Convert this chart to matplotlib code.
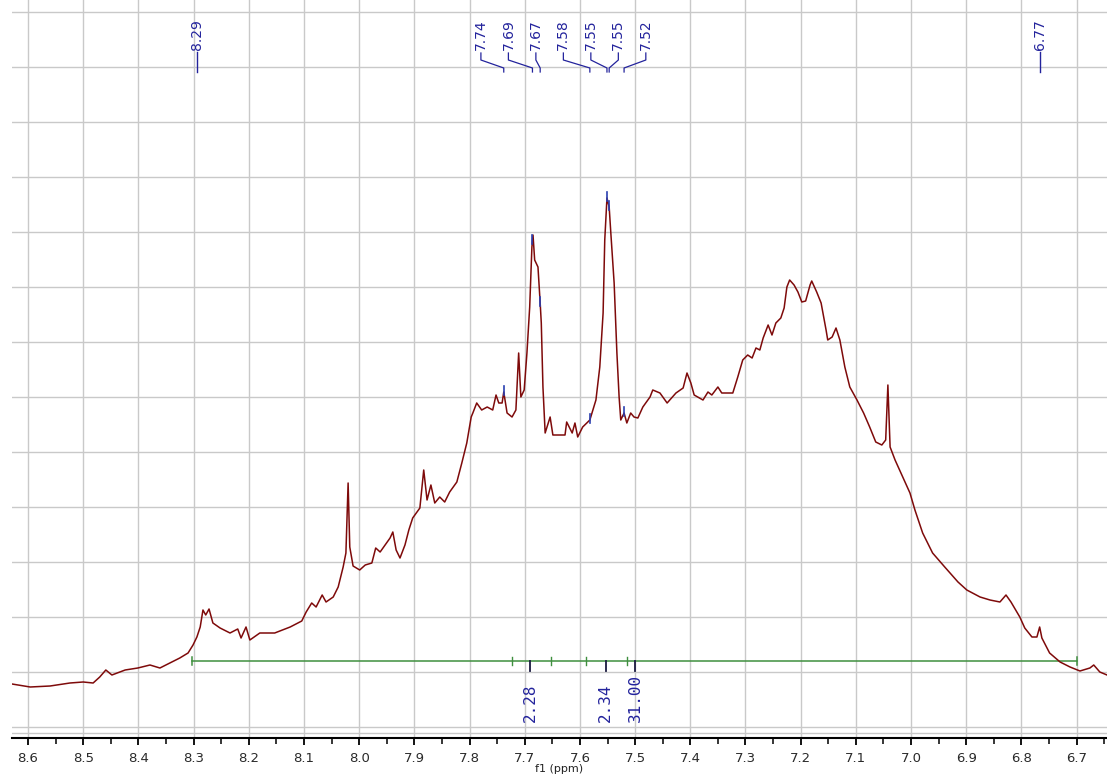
import numpy as np
from matplotlib import pyplot as plt

# 1H NMR trace: chemical shift (ppm) and relative intensity
ppm = [8.629, 8.596, 8.560, 8.524, 8.500, 8.482, 8.470, 8.459, 8.448, 8.424,
       8.401, 8.379, 8.361, 8.343, 8.325, 8.310, 8.301, 8.294, 8.288, 8.283,
       8.278, 8.272, 8.265, 8.252, 8.234, 8.220, 8.214, 8.205, 8.198, 8.180,
       8.153, 8.125, 8.104, 8.096, 8.086, 8.078, 8.067, 8.060, 8.047, 8.038,
       8.029, 8.024, 8.020, 8.017, 8.011, 7.999, 7.989, 7.977, 7.970, 7.962,
       7.953, 7.944, 7.939, 7.933, 7.926, 7.917, 7.910, 7.903, 7.890, 7.883,
       7.877, 7.870, 7.863, 7.854, 7.845, 7.836, 7.823, 7.814, 7.805, 7.797,
       7.794, 7.787, 7.778, 7.768, 7.758, 7.752, 7.747, 7.741, 7.738, 7.732,
       7.723, 7.716, 7.711, 7.707, 7.701, 7.696, 7.691, 7.687, 7.685, 7.682,
       7.676, 7.672, 7.670, 7.667, 7.663, 7.654, 7.649, 7.627, 7.624, 7.614,
       7.609, 7.604, 7.595, 7.582, 7.571, 7.564, 7.558, 7.555, 7.551, 7.547,
       7.544, 7.538, 7.533, 7.529, 7.526, 7.520, 7.515, 7.508, 7.502, 7.495,
       7.486, 7.473, 7.468, 7.455, 7.442, 7.426, 7.413, 7.406, 7.399, 7.393,
       7.377, 7.368, 7.361, 7.350, 7.343, 7.332, 7.323, 7.314, 7.305, 7.296,
       7.288, 7.281, 7.274, 7.268, 7.259, 7.252, 7.245, 7.236, 7.230, 7.225,
       7.220, 7.212, 7.205, 7.198, 7.191, 7.183, 7.180, 7.171, 7.163, 7.154,
       7.151, 7.143, 7.136, 7.129, 7.120, 7.111, 7.098, 7.086, 7.075, 7.064,
       7.053, 7.046, 7.042, 7.038, 7.029, 7.015, 7.002, 6.993, 6.979, 6.961,
       6.939, 6.915, 6.899, 6.875, 6.857, 6.839, 6.828, 6.819, 6.803, 6.794,
       6.781, 6.772, 6.767, 6.763, 6.749, 6.730, 6.712, 6.694, 6.676, 6.669,
       6.658, 6.645]
intensity = [0.4, -0.2, 0.0, 0.6, 0.8, 0.6, 1.8, 3.2, 2.2, 3.2,
             3.6, 4.2, 3.6, 4.6, 5.6, 6.6, 8.2, 9.8, 11.8, 15.2,
             14.2, 15.4, 12.6, 11.6, 10.6, 11.4, 9.6, 11.8, 9.2, 10.6,
             10.6, 11.8, 13.0, 14.8, 16.6, 15.8, 18.2, 16.8, 17.8, 19.8,
             23.8, 26.6, 40.6, 27.8, 24.0, 23.2, 24.2, 24.6, 27.6, 26.8,
             28.2, 29.6, 30.8, 27.2, 25.6, 28.2, 31.2, 33.6, 35.6, 43.2,
             37.2, 40.2, 36.6, 37.8, 36.8, 38.8, 40.8, 44.6, 48.6, 53.8,
             54.6, 56.6, 55.2, 55.8, 55.2, 58.2, 56.6, 56.6, 58.8, 54.6,
             53.8, 55.2, 66.6, 57.8, 59.2, 66.6, 75.8, 87.8, 90.2, 85.2,
             83.8, 76.6, 72.6, 59.8, 50.6, 53.8, 50.2, 50.2, 52.8, 50.6,
             52.6, 49.8, 51.8, 53.2, 57.2, 63.8, 74.6, 89.2, 97.6, 95.8,
             90.6, 80.6, 66.6, 57.8, 53.2, 54.6, 52.6, 54.6, 53.8, 53.6,
             55.8, 57.8, 59.2, 58.6, 56.6, 58.6, 59.6, 62.6, 60.6, 58.2,
             57.2, 58.8, 58.2, 59.8, 58.6, 58.6, 58.6, 61.8, 65.2, 66.2,
             65.6, 67.6, 67.2, 69.6, 72.2, 70.2, 72.6, 73.6, 75.6, 79.8,
             81.2, 80.2, 78.8, 76.8, 77.0, 80.2, 81.0, 78.8, 76.6, 71.2,
             69.2, 69.8, 71.6, 69.2, 63.8, 59.8, 57.2, 54.6, 51.8, 48.8,
             48.2, 49.2, 60.2, 47.8, 45.2, 41.8, 38.6, 35.2, 30.6, 26.6,
             23.8, 20.8, 19.2, 17.8, 17.2, 16.8, 18.2, 16.8, 13.8, 11.6,
             9.8, 9.8, 11.8, 9.6, 6.6, 4.8, 3.8, 3.0, 3.6, 4.2,
             2.8, 2.2]

# peak picking
cluster_labels = ['7.74', '7.69', '7.67', '7.58', '7.55', '7.55', '7.52']
cluster_ppm = [7.738, 7.686, 7.672, 7.582, 7.551, 7.547, 7.520]
single_labels = ['8.29', '6.77']
single_ppm = [8.294, 6.767]

# integrals
integral_start, integral_end = 8.303, 6.700
integral_bounds = [7.723, 7.653, 7.589, 7.515]
integral_ppm = [7.690, 7.553, 7.500]
integral_values = ['2.28', '2.34', '31.00']

blue = '#23239c'
green = '#3f8f3f'
grid_c = '#c9c9c9'

fig = plt.figure(figsize=(11.07, 7.76), dpi=100)
ax = fig.add_axes([12 / 1107, 38 / 776, 1095 / 1107, 738 / 776])

ax.plot(ppm, intensity, color='#7e0a0a', lw=1.1, zorder=3)

# grid
ax.set_xticks(np.round(np.arange(8.6, 6.65, -0.1), 1))
ax.set_xticks(np.round(np.arange(8.65, 6.6, -0.1), 2), minor=True)
ax.set_yticks(np.arange(134.8, -9.0, -11.0))
ax.set_xlim(8.629, 6.645)
ax.set_ylim(-10.4, 137.2)
ax.grid(True, which='major', color=grid_c, lw=1.0, zorder=0)
ax.axhline(-9.4, color=grid_c, lw=1.0, zorder=0)
ax.set_yticklabels([])
ax.tick_params(axis='y', length=0)
for s in ['left', 'right', 'top']:
    ax.spines[s].set_visible(False)
ax.spines['bottom'].set_linewidth(1.5)
ax.tick_params(axis='x', which='major', length=5, width=1.3, pad=5,
               labelsize=9.5, labelcolor='#2a2a2a')
ax.tick_params(axis='x', which='minor', length=4, width=1.1)
ax.set_xticklabels([f'{t:.1f}' for t in ax.get_xticks()])
ax.set_xlabel('f1 (ppm)', fontsize=8, labelpad=-1, color='#222222')

# peak labels with leader lines
label_top = 127.2
spacing = 0.0498
centre = np.mean([7.779, 7.481])
for i, (lab, p) in enumerate(zip(cluster_labels, cluster_ppm)):
    lx = centre + (3 - i) * spacing
    ax.text(lx, label_top, lab, rotation=90, ha='center', va='bottom',
            fontsize=10, color=blue)
    ax.plot([lx, lx, p, p], [126.6, 125.2, 123.6, 122.8], color=blue, lw=0.9)
    top = np.interp(p, ppm[::-1], intensity[::-1])
    ax.plot([p, p], [top - 0.5, top + 1.2], color='#2a3fb0', lw=1.2, zorder=4)
for lab, p in zip(single_labels, single_ppm):
    ax.text(p, label_top, lab, rotation=90, ha='center', va='bottom',
            fontsize=10, color=blue)
    ax.plot([p, p], [126.8, 122.8], color=blue, lw=1.0)

# integral trace
ax.plot([integral_start, integral_end], [5.0, 5.0], color=green, lw=1.1, zorder=2)
for p in [integral_start, integral_end]:
    ax.plot([p, p], [4.2, 5.8], color=green, lw=1.1)
for p in integral_bounds:
    ax.plot([p, p], [4.2, 5.8], color=green, lw=1.0)
for p, val in zip(integral_ppm, integral_values):
    ax.plot([p, p], [5.0, 3.0], color='#1a1a40', lw=1.3, zorder=4)
    ax.text(p, -7.2, val, rotation=90, ha='center', va='bottom',
            fontsize=11.5, family='DejaVu Sans Mono', color=blue)

fig.savefig('out.png', dpi=100)
